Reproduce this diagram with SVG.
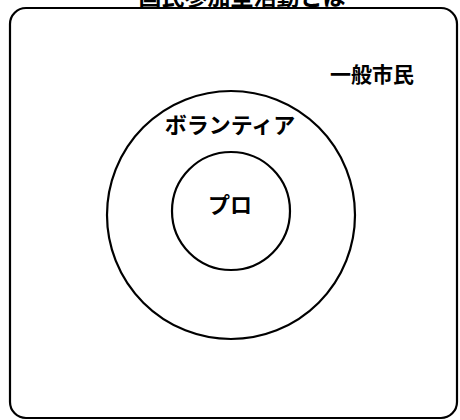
<svg xmlns="http://www.w3.org/2000/svg" width="460" height="420" viewBox="0 0 460 420">
<style>
.ln{fill:none;stroke:#000;stroke-width:2.2}
.t{font-family:"Noto Sans CJK JP","Noto Sans CJK SC",sans-serif;font-weight:bold;fill:#000}
</style>
<rect width="460" height="420" fill="#fff"/>
<text class="t" x="242" y="5" font-size="23" text-anchor="middle">国民参加型活動とは</text>
<g id="general">
<rect class="ln" x="10" y="8" width="447" height="410" rx="16"/>
<text class="t" x="372" y="82" font-size="21" text-anchor="middle">一般市民</text>
</g>
<g id="volunteer">
<circle class="ln" cx="231" cy="215" r="124"/>
<text class="t" x="230" y="133" font-size="22" text-anchor="middle">ボランティア</text>
</g>
<g id="pro">
<ellipse class="ln" cx="231" cy="211" rx="59" ry="59"/>
<text class="t" x="230" y="213" font-size="22" text-anchor="middle">プロ</text>
</g>
<g id="connectors"/>
</svg>
